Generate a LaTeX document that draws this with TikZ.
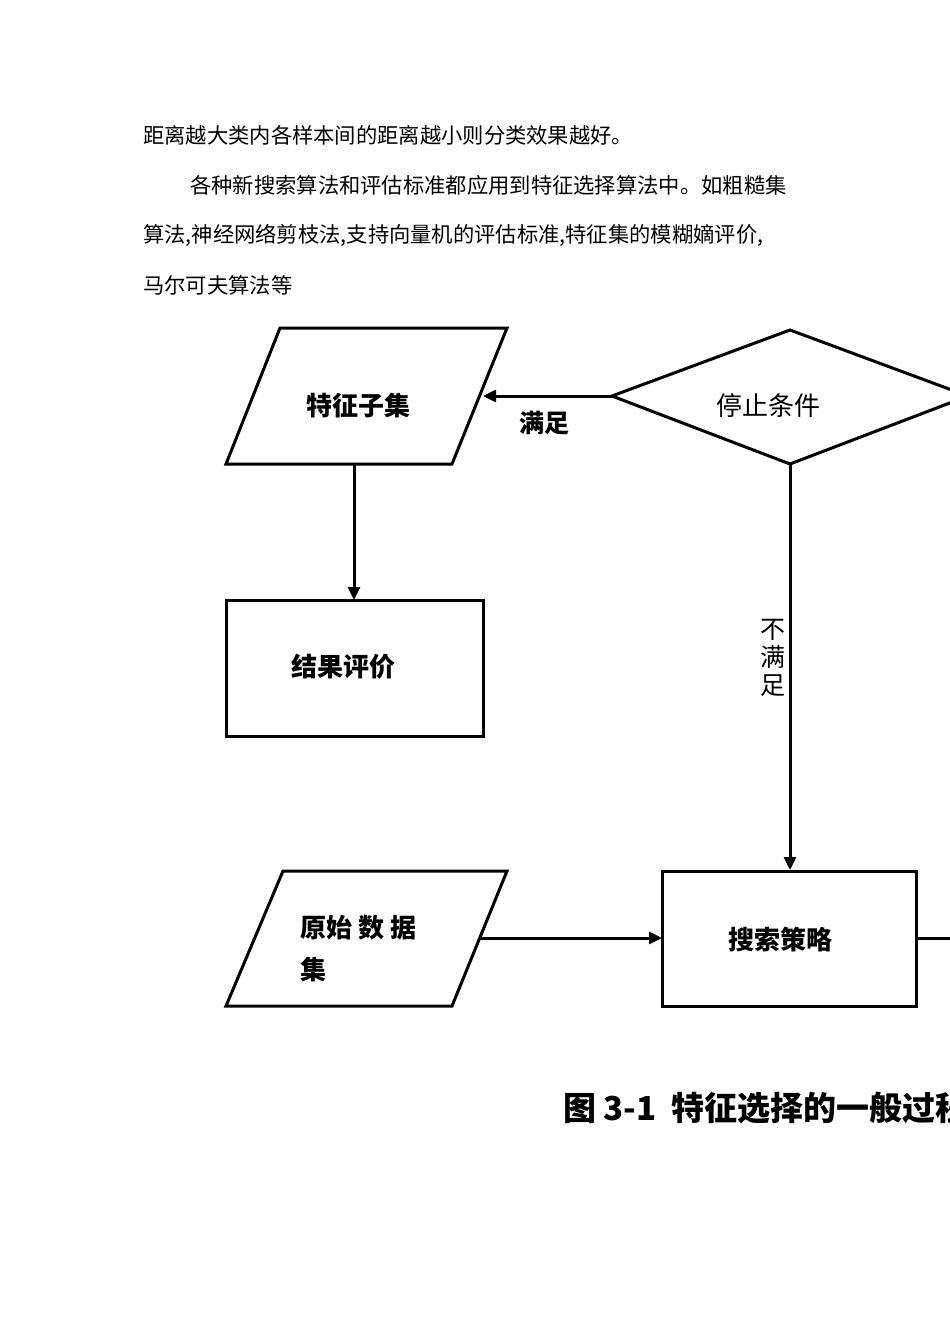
\documentclass[tikz,border=0pt]{standalone}
\usepackage{fontspec}
\newfontfamily\cjk{Noto Sans CJK SC}
\usetikzlibrary{arrows.meta}
\begin{document}
\begin{tikzpicture}[x=1pt,y=-1pt,
  ln/.style={line width=3pt},
  arr/.style={line width=3pt,-{Triangle[length=13pt,width=12pt]}},
  body/.style={anchor=west,inner sep=0,font=\cjk\fontsize{21.3}{21}\selectfont},
  lbl/.style={inner sep=0,font=\cjk\bfseries\fontsize{26}{26}\selectfont}]
\useasboundingbox (0,0) rectangle (950,1344);
\clip (0,0) rectangle (950,1344);
\node[body] (t1) at (143,135) {距离越大类内各样本间的距离越小则分类效果越好。};
\node[body] (t2) at (190,185) {各种新搜索算法和评估标准都应用到特征选择算法中。如粗糙集};
\node[body] (t3) at (143,235) {算法,神经网络剪枝法,支持向量机的评估标准,特征集的模糊嫡评价,};
\node[body] (t4) at (143,285) {马尔可夫算法等};
% shapes
\draw[ln] (280,328) -- (507,328) -- (452,464) -- (226,464) -- cycle;
\node[lbl] (zj) at (358,406) {特征子集};
\draw[ln] (226,600) rectangle (483,736);
\node[lbl] (jg) at (343,667) {结果评价};
\draw[ln] (612,396) -- (790,330) -- (968,396) -- (790,464) -- cycle;
\node[lbl,font=\cjk\fontsize{26}{26}\selectfont] (tz) at (768,406) {停止条件};
\draw[ln] (283,871) -- (507,871) -- (452,1006) -- (226,1006) -- cycle;
\node[lbl,anchor=west] (ys1) at (300,928) {原始 数 据};
\node[lbl,anchor=west] (ys2) at (300,970) {集};
\draw[ln] (662,871) rectangle (916,1006);
\node[lbl] (ss) at (780,940) {搜索策略};
\coordinate (zjr) at (483,396);
\coordinate (dl) at (612,396);
\coordinate (db) at (790,464);
\coordinate (st) at (790,870);
\coordinate (zjb) at (354,464);
\coordinate (jgt) at (354,600);
\coordinate (ysr) at (480,938);
\coordinate (ssl) at (662,938);
\coordinate (ssr) at (916,938);
\coordinate (off) at (960,938);
\draw[arr] (dl) -- (zjr);
\draw[arr] (zjb) -- (jgt);
\draw[arr] (db) -- (st);
\draw[arr] (ysr) -- (ssl);
\draw[ln] (ssr) -- (off);
\node[lbl,font=\cjk\bfseries\fontsize{25}{25}\selectfont] (mz) at (544,423) {满足};
\node[lbl,font=\cjk\fontsize{25}{28}\selectfont,align=center] (bmz) at (773,658) {不\\满\\足};
\node[inner sep=0,font=\cjk\bfseries\fontsize{33}{33}\selectfont,anchor=west] (cap) at (563,1108) {图 3-1\ \ 特征选择的一般过程};
\end{tikzpicture}
\end{document}
